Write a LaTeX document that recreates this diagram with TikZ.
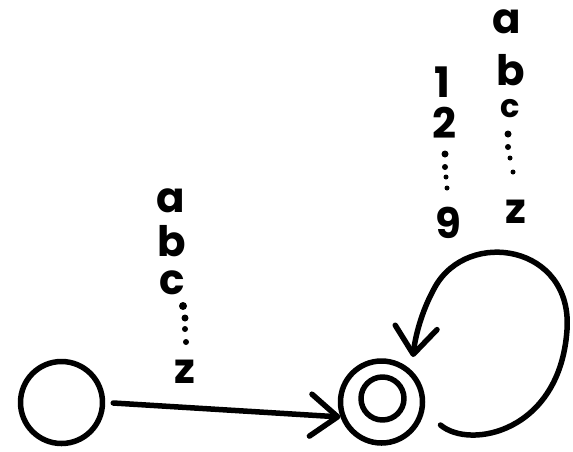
\documentclass[tikz,border=0pt]{standalone}
\usepackage{fontspec}
\setmainfont{Poppins}
\usetikzlibrary{arrows.meta}

\begin{document}
\begin{tikzpicture}[x=1pt,y=-1pt,
  ink/.style={line width=5.5pt,line cap=round,line join=round},
  state/.style={circle,draw,ink,inner sep=0pt},
  edge/.style={ink,-{Straight Barb[length=27pt,width=42pt,line cap=round,line join=round]}},
  sym/.style={anchor=base,inner sep=0pt,font=\fontsize{42}{42}\selectfont\bfseries},
  small/.style={font=\fontsize{32}{32}\selectfont\bfseries},
  dot/.style={circle,fill,inner sep=0pt}]
\useasboundingbox (0,0) rectangle (573,451);

% states
\node[state,minimum size=82pt] (q0) at (61.5,402.5) {};
\node[state,minimum size=82pt] (q1) at (381.5,402) {};
\node[state,minimum size=43pt] (q1in) at (382.5,398.5) {};

% transition q0 -> q1
\draw[edge,shorten <=8pt] (q0.0) -- (q1.200);

% self loop on q1
\draw[edge] ([shift={(59,23)}]q1.center)
  .. controls (470,450) and (560,432) .. (567,330)
  .. controls (573,245) and (468,228) .. (435,287)
  .. controls (421,312) and (415,338) .. ([shift={(31.5,-45)}]q1.center);

% label of q0 -> q1
\node[sym] (ea) at (171,212) {a};
\node[sym] (eb) at (172,256) {b};
\node[sym] (ec) at (172,294) {c};
\node[dot,minimum size=8pt] (ed1) at (183,306) {};
\node[dot,minimum size=7pt] (ed2) at (185,318) {};
\node[dot,minimum size=6pt] (ed3) at (185,329) {};
\node[dot,minimum size=6pt] (ed4) at (186,342) {};
\node[sym] (ez) at (185,383) {z};

% labels of the loop: digits
\node[sym] (l1) at (442,97) {1};
\node[sym] (l2) at (444,138) {2};
\node[dot,minimum size=7pt] (ld1) at (445,154) {};
\node[dot,minimum size=6pt] (ld2) at (445,167) {};
\node[dot,minimum size=5pt] (ld3) at (446,177) {};
\node[dot,minimum size=5pt] (ld4) at (447,188) {};
\node[sym] (l9) at (448,238) {9};

% labels of the loop: letters
\node[sym] (la) at (507,33) {a};
\node[sym] (lb) at (511,85) {b};
\node[sym,small] (lc) at (510,117) {c};
\node[dot,minimum size=7pt] (lt1) at (508,134) {};
\node[dot,minimum size=6pt] (lt2) at (508,147) {};
\node[dot,minimum size=5pt] (lt3) at (510,158) {};
\node[dot,minimum size=5pt] (lt4) at (513,172) {};
\node[sym] (lz) at (516,223) {z};
\end{tikzpicture}
\end{document}
